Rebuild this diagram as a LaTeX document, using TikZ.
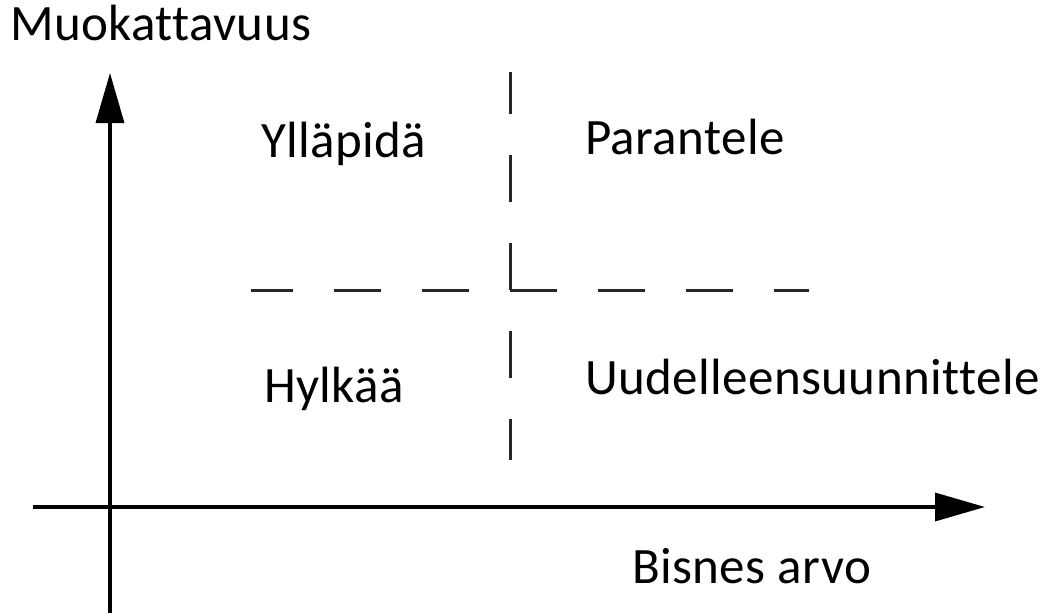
\documentclass[tikz,border=0pt]{standalone}
\usepackage{fontspec}
\setmainfont{Carlito}[Ligatures={NoCommon},LetterSpace=0.8]
\usetikzlibrary{arrows.meta}
\begin{document}
\begin{tikzpicture}[x=1pt,y=-1pt,
  axis/.style={line width=3.5pt,-{Triangle[length=50pt,width=28pt]}},
  quad/.style={line width=3pt,draw=black!85,dash pattern=on 47pt off 41pt},
  quadgap/.style={quad,dash phase=47pt},
  lbl/.style={inner sep=0pt,anchor=base west,font=\fontsize{51}{60}\selectfont}]
\useasboundingbox (0,0) rectangle (1041,613);
% axis end points
\coordinate (yb) at (110,613);
\coordinate (yt) at (110,73);
\coordinate (xl) at (33,507);
\coordinate (xr) at (985,507);
% quadrant divider
\coordinate (c) at (510,290);
\coordinate (cu) at (510,72);
\coordinate (cd) at (510,460);
\coordinate (cl) at (251,290);
\coordinate (cr) at (809,290);
\draw[axis] (yb) -- (yt);
\draw[axis] (xl) -- (xr);
\draw[quad] (c) -- (cu);
\draw[quad] (c) -- (cr);
\draw[quadgap] (c) -- (cd);
\draw[quadgap] (c) -- (cl);
% labels
\node[lbl] (ylab) at (10,40) {Muokattavuus};
\node[lbl] (xlab) at (632,583) {Bisnes arvo};
\node[lbl] (q1) at (261,157) {Ylläpidä};
\node[lbl] (q2) at (585,154) {Parantele};
\node[lbl] (q3) at (264,402) {Hylkää};
\node[lbl] (q4) at (585,394) {Uudelleensuunnittele};
\end{tikzpicture}
\end{document}
